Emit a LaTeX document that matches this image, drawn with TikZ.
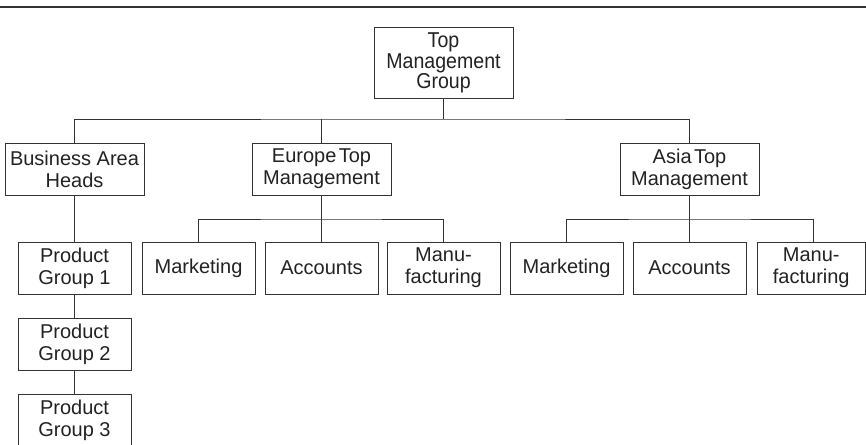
\documentclass[tikz,border=0pt]{standalone}
\usepackage{fontspec}
\setmainfont{Liberation Sans}
\newfontfamily\narrowsans[FakeStretch=0.91]{Liberation Sans}
\definecolor{linec}{HTML}{333333}
\definecolor{textc}{HTML}{222222}
\begin{document}
\begin{tikzpicture}[x=1pt,y=-1pt,
  box/.style={draw=linec, line width=1pt, inner sep=0pt, align=center, text=textc,
    font=\fontsize{20}{21.7}\selectfont},
  widebox/.style={box, minimum width=139pt, minimum height=52pt},
  smallbox/.style={box, minimum width=113pt, minimum height=52pt},
  topbox/.style={box, minimum width=139pt, minimum height=70pt,
    font=\narrowsans\fontsize{21.5}{20.5}\selectfont},
  conn/.style={draw=linec, line width=1pt}]
\useasboundingbox (0,0) rectangle (866,444);
\clip (0,0) rectangle (866,444);
\draw[linec, line width=1.5pt] (0,7) -- (866,7);
% level 0
\node[topbox] (top) at (443.5,63) {Top\\Management\\Group};
% level 1
\node[widebox] (bah) at (74.5,169) {Business Area\\Heads};
\node[widebox] (eur) at (321.5,169) {Europe\kern0.12em Top\\Management};
\node[widebox] (asia) at (689.5,169) {Asia\kern0.12em Top\\Management};
% level 2
\node[smallbox] (pg1) at (74.5,268) {Product\\Group 1};
\node[smallbox] (em) at (198.5,268) {Marketing};
\node[smallbox] (ea) at (321.5,268) {Accounts};
\node[smallbox] (emf) at (443.5,268) {Manu-\\facturing};
\node[smallbox] (am) at (566.5,268) {Marketing};
\node[smallbox] (aa) at (689.5,268) {Accounts};
\node[box, minimum width=108.5pt, minimum height=52pt] (amf) at (811.25,268) {Manu-\\facturing};
% product chain
\node[smallbox] (pg2) at (74.5,344) {Product\\Group 2};
\node[smallbox] (pg3) at (74.5,420) {Product\\Group 3};
% connectors
\coordinate (bus1) at (443.5,119);
\coordinate (bus2) at (321.5,219);
\coordinate (bus3) at (689.5,219);
\draw[conn] (top.south) -- (bus1);
\draw[conn] (bah.north) |- (bus1) -| (asia.north);
\draw[conn] (eur.north) -- (eur.north |- bus1);
\draw[conn] (eur.south) -- (ea.north);
\draw[conn] (em.north) |- (bus2) -| (emf.north);
\draw[conn] (asia.south) -- (aa.north);
\draw[conn] (am.north) |- (bus3) -| ([xshift=2pt]amf.north);
\draw[conn] (bah) -- (pg1);
\draw[conn] (pg1) -- (pg2);
\draw[conn] (pg2) -- (pg3);
\end{tikzpicture}
\end{document}
